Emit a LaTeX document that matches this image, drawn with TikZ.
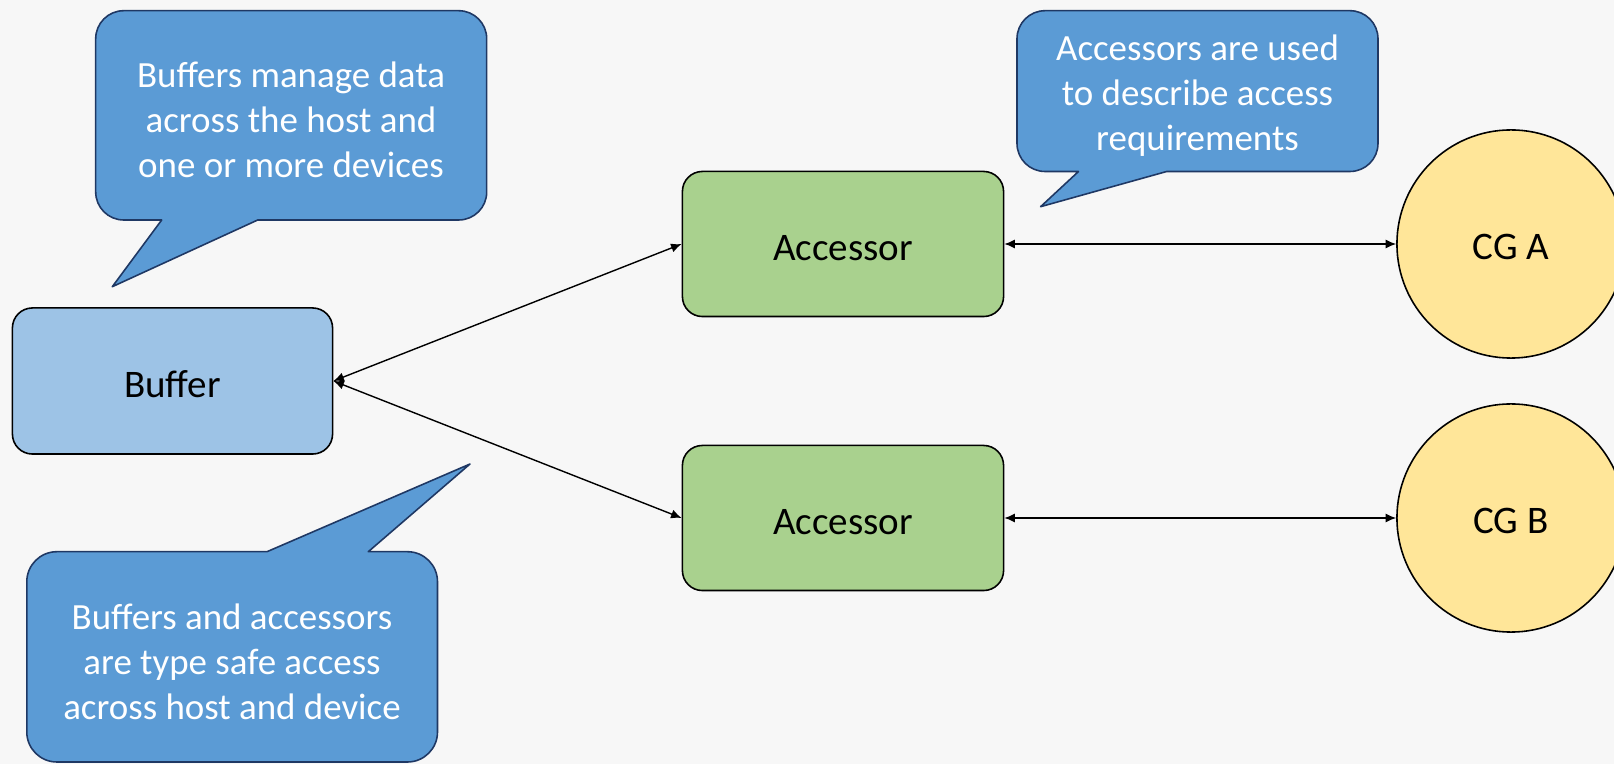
\documentclass[tikz,border=0pt]{standalone}
\usepackage{fontspec}
\setmainfont{Carlito}
\usetikzlibrary{arrows.meta}
\definecolor{bgcol}{HTML}{F7F7F7}
\definecolor{notefill}{HTML}{5B9BD5}
\definecolor{noteline}{HTML}{1F3864}
\definecolor{buffill}{HTML}{9DC3E6}
\definecolor{accfill}{HTML}{A9D18E}
\definecolor{cgfill}{HTML}{FFE699}
\tikzset{
  box/.style={draw=black,line width=0.45pt,rounded corners=0.2cm,minimum width=3.21cm,minimum height=1.45cm,inner sep=0pt,text height=9.2pt,text depth=0pt,font=\fontsize{11.1}{13.3}\selectfont},
  cg/.style={circle,draw=black,line width=0.45pt,fill=cgfill,minimum size=2.28cm,inner sep=0pt,text height=8.6pt,text depth=0pt,font=\fontsize{11.1}{13.3}\selectfont},
  note/.style={fill=notefill,draw=noteline,line width=0.45pt,line join=round},
  notetext/.style={text=white,align=center,inner sep=0pt,font=\fontsize{10.5}{12.8}\selectfont},
  link/.style={line width=0.4pt,{Latex[length=3pt,width=2.6pt]}-{Latex[length=3pt,width=2.6pt]}}
}
\begin{document}
\begin{tikzpicture}[x=0.01cm,y=-0.01cm]
\useasboundingbox (0,0) rectangle (1614,764);
\fill[bgcol] (0,0) rectangle (1614,764);
\clip (0,0) rectangle (1614,764);
\draw[note] (112.3,286.7) -- (257.7,220) [rounded corners=0.28cm] -- (486.7,220) -- (486.7,10.7) -- (95.7,10.7) -- (95.7,220) [sharp corners] -- (161.7,220) -- cycle;
\draw[note] (1040.6,206.7) -- (1166.7,171.5) [rounded corners=0.28cm] -- (1378,171.5) -- (1378,10.7) -- (1017,10.7) -- (1017,171.5) [sharp corners] -- (1078.5,171.5) -- cycle;
\draw[note] (470,464) -- (368.3,551.7) [rounded corners=0.3cm] -- (437.5,551.7) -- (437.5,762) -- (26.8,762) -- (26.8,551.7) [sharp corners] -- (267,551.7) -- cycle;
\node[notetext] (bufnote) at (291,120) {Buffers manage data\\across the host and\\one or more devices};
\node[notetext] (accnote) at (1197.5,96) {Accessors are used\\to describe access\\requirements};
\node[notetext] (safenote) at (232,662) {Buffers and accessors\\are type safe access\\across host and device};
\node[box,fill=buffill,minimum width=3.2cm,minimum height=1.46cm] (buffer) at (172.5,381) {Buffer};
\node[box,fill=accfill] (acca) at (843,244) {Accessor};
\node[box,fill=accfill] (accb) at (843,518) {Accessor};
\node[cg] (cga) at (1511,244) {CG A};
\node[cg] (cgb) at (1511,518) {CG B};
\draw[link] (buffer.east) -- (acca.west);
\draw[link] (buffer.east) -- (accb.west);
\draw[link] (acca.east) -- (cga.west);
\draw[link] (accb.east) -- (cgb.west);
\end{tikzpicture}
\end{document}
